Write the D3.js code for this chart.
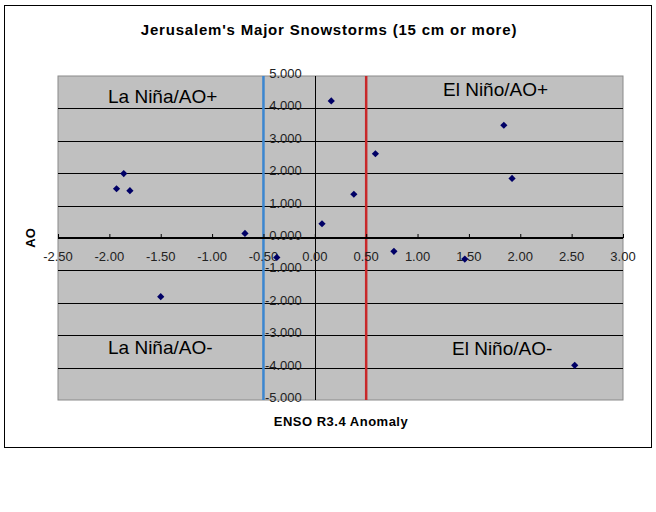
<!DOCTYPE html>
<html><head><meta charset="utf-8">
<script src="https://cdn.jsdelivr.net/npm/d3@7"></script>
<style>body{margin:0;background:#fff}svg{display:block}text{font-family:Arial,"Liberation Sans",sans-serif}</style>
</head><body>
<script>
const title = "Jerusalem's Major Snowstorms (15 cm or more)";
const xTitle = "ENSO R3.4 Anomaly";
const yTitle = "AO";
const ensoValues = [-1.86, -1.93, -1.80, -1.50, -0.68, -0.37, 0.16, 0.07, 0.38, 0.59, 0.77, 1.46, 1.84, 1.92, 2.53];
const aoValues   = [1.99, 1.52, 1.46, -1.81, 0.14, -0.60, 4.23, 0.44, 1.35, 2.60, -0.41, -0.65, 3.48, 1.84, -3.93];
const xTicks = [-2.5, -2, -1.5, -1, -0.5, 0, 0.5, 1, 1.5, 2, 2.5, 3];
const yTicks = [-5, -4, -3, -2, -1, 0, 1, 2, 3, 4, 5];
const thresholds = [-0.5, 0.5];
const quadrantLabels = ["La Niña/AO+", "El Niño/AO+", "La Niña/AO-", "El Niño/AO-"];

const W = 656, H = 512;
const svg = d3.select("body").append("svg").attr("width", W).attr("height", H);
const L = 58, R = 623, T = 76, B = 400;
const x = d3.scaleLinear().domain([-2.5, 3]).range([L, R]);
const y = d3.scaleLinear().domain([-5, 5]).range([B, T]);
const fmt = n => (v => v.toFixed(n));

svg.append("rect").attr("x", 4.5).attr("y", 5.5).attr("width", 647).attr("height", 442)
  .attr("fill", "#fff").attr("stroke", "#000").attr("stroke-width", 1);

svg.append("text").attr("x", 329).attr("y", 35).attr("text-anchor", "middle")
  .attr("font-size", 15).attr("font-weight", "bold").attr("letter-spacing", 0.8).text(title);

svg.append("rect").attr("x", L).attr("y", T).attr("width", R - L).attr("height", B - T)
  .attr("fill", "#c0c0c0").attr("stroke", "#8a8a8a").attr("stroke-width", 1);

// horizontal gridlines
svg.append("g").selectAll("line").data(yTicks.filter(v => v > -5 && v < 5 && v !== 0)).join("line")
  .attr("x1", L).attr("x2", R).attr("y1", d => Math.round(y(d)) + 0.5).attr("y2", d => Math.round(y(d)) + 0.5)
  .attr("stroke", "#000").attr("stroke-width", 1);

// y axis at x=0
svg.append("line").attr("x1", Math.round(x(0)) + 0.5).attr("x2", Math.round(x(0)) + 0.5)
  .attr("y1", T).attr("y2", B).attr("stroke", "#000").attr("stroke-width", 1);

// threshold lines
const thrColors = ["#3b86d0", "#c8282a"];
svg.append("g").selectAll("line").data(thresholds).join("line")
  .attr("x1", d => x(d)).attr("x2", d => x(d)).attr("y1", T).attr("y2", B)
  .attr("stroke", (d, i) => thrColors[i]).attr("stroke-width", 2.5);

// x axis at y=0
const xAxis = d3.axisTop(x).tickValues(xTicks).tickSize(4).tickFormat("");
const gx = svg.append("g").attr("transform", `translate(0,${y(0)})`).call(xAxis);
gx.select(".domain").remove();
gx.selectAll(".tick line").attr("stroke", "#000");
svg.append("line").attr("x1", L).attr("x2", R).attr("y1", y(0)).attr("y2", y(0))
  .attr("stroke", "#000").attr("stroke-width", 2);

// x tick labels
svg.append("g").selectAll("text").data(xTicks).join("text")
  .attr("x", d => x(d)).attr("y", y(0) + 23).attr("text-anchor", "middle")
  .attr("font-size", 13).attr("fill", "#222").text(fmt(2));

// y tick labels
svg.append("g").selectAll("text").data(yTicks).join("text")
  .attr("x", x(0) - 13).attr("y", d => y(d) + 2).attr("text-anchor", "end")
  .attr("font-size", 13).attr("fill", "#222").text(fmt(3));

// quadrant labels
const qPos = [[108, 103], [443, 96], [108, 354], [452, 355]];
svg.append("g").selectAll("text").data(quadrantLabels).join("text")
  .attr("x", (d, i) => qPos[i][0]).attr("y", (d, i) => qPos[i][1])
  .attr("font-size", 19).attr("fill", "#000").text(d => d);

// points
const pts = ensoValues.map((v, i) => [v, aoValues[i]]);
svg.append("g").selectAll("path").data(pts).join("path")
  .attr("d", d3.symbol().type(d3.symbolSquare).size(26))
  .attr("transform", d => `translate(${x(d[0])},${y(d[1])}) rotate(45)`)
  .attr("fill", "#000066");

// axis titles
svg.append("text").attr("x", 341).attr("y", 426).attr("text-anchor", "middle")
  .attr("font-size", 13).attr("font-weight", "bold").attr("letter-spacing", 0.5).text(xTitle);
svg.append("text").attr("transform", "translate(35,238) rotate(-90)").attr("text-anchor", "middle")
  .attr("font-size", 13).attr("font-weight", "bold").text(yTitle);
</script>
</body></html>
